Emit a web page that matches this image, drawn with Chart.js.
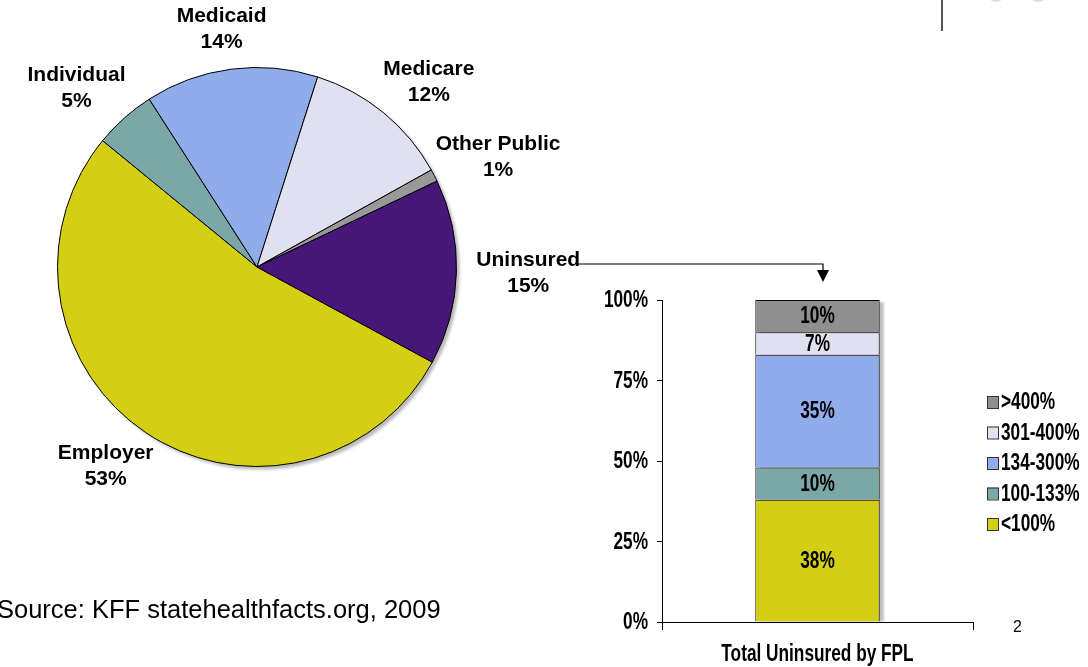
<!DOCTYPE html>
<html>
<head>
<meta charset="utf-8">
<script src="https://cdn.jsdelivr.net/npm/chart.js@4.4.0/dist/chart.umd.min.js"></script>
<style>
  html, body { margin: 0; padding: 0; background: #fff; }
  body { width: 1088px; height: 667px; position: relative; overflow: hidden; }
  #pieWrap { position: absolute; left: 0; top: 0; width: 600px; height: 667px; }
  #barWrap { position: absolute; left: 580px; top: 270px; width: 508px; height: 397px; }
  #source { position: absolute; left: -3px; top: 595px; font: 25.5px "Liberation Sans", Arial, sans-serif; color: #000; white-space: nowrap; }
  #pageNo { position: absolute; left: 1013px; top: 618px; font: 16px "Liberation Sans", Arial, sans-serif; color: #000; }
  #overlay { position: absolute; left: 0; top: 0; pointer-events: none; }
</style>
</head>
<body>
<div id="pieWrap"><canvas id="pieChart"></canvas></div>
<div id="barWrap"><canvas id="barChart"></canvas></div>
<div id="source">Source: KFF statehealthfacts.org, 2009</div>
<div id="pageNo">2</div>
<svg id="overlay" width="1088" height="667">
  <!-- header rule and the cut-off logo dots -->
  <line x1="942" y1="0" x2="942" y2="31" stroke="#555" stroke-width="2"/>
  <circle cx="996" cy="-7" r="9" fill="#dcd8f2"/>
  <circle cx="1038" cy="-7" r="9" fill="#dcd8f2"/>
  <!-- connector from the uninsured slice to the FPL bar -->
  <polyline points="576,264 823,264 823,271" fill="none" stroke="#000" stroke-width="1.2"/>
  <polygon points="817,270 829,270 823,282" fill="#000"/>
</svg>
<script>
// coverage split (pie)
var coverageLabels = ['Employer', 'Individual', 'Medicaid', 'Medicare', 'Other Public', 'Uninsured'];
var coverageValues = [53, 5, 14, 12, 1, 15];
var coverageColors = ['#d4cf14', '#7ba7a6', '#8faceb', '#e0e0f0', '#999999', '#461778'];

// uninsured by poverty level (stacked bar)
var fplCategory = ['Total Uninsured by FPL'];
var fplGroups = ['<100%', '100-133%', '134-300%', '301-400%', '>400%'];
var fplValues = [38, 10, 35, 7, 10];
var fplColors = ['#d4cf14', '#7ba7a6', '#8faceb', '#e0e0f0', '#8f8f8f'];
var yTicks = [0, 25, 50, 75, 100];

var sansFont = '"Liberation Sans", Arial, sans-serif';

// no narrow face installed, so squeeze bold Liberation Sans horizontally
function narrowText(ctx, text, x, y, align) {
    ctx.save();
    ctx.translate(x, y);
    ctx.scale(0.75, 1);
    ctx.font = 'bold 23px ' + sansFont;
    ctx.fillStyle = '#000';
    ctx.textAlign = align;
    ctx.textBaseline = 'middle';
    ctx.fillText(text, 0, 0);
    ctx.restore();
}

// soft grey shadow behind the pie
var pieShadow = {
    id: 'pieShadow',
    beforeDatasetsDraw: function(chart) {
        var arc = chart.getDatasetMeta(0).data[0];
        var ctx = chart.ctx;
        ctx.save();
        ctx.fillStyle = 'rgba(0,0,0,0.28)';
        ctx.filter = 'blur(1.5px)';
        ctx.beginPath();
        ctx.arc(arc.x + 3, arc.y + 3, arc.outerRadius, 0, Math.PI * 2);
        ctx.fill();
        ctx.restore();
    }
};

// two-line labels placed around the pie on an ellipse
var pieLabels = {
    id: 'pieLabels',
    afterDatasetsDraw: function(chart) {
        var ctx = chart.ctx;
        var meta = chart.getDatasetMeta(0);
        ctx.save();
        ctx.fillStyle = '#000';
        ctx.font = 'bold 21px ' + sansFont;
        ctx.textAlign = 'center';
        ctx.textBaseline = 'middle';
        meta.data.forEach(function(arc, i) {
            var mid = (arc.startAngle + arc.endAngle) / 2;
            var x = arc.x + Math.cos(mid) * arc.outerRadius * 1.36;
            var y = arc.y + Math.sin(mid) * arc.outerRadius * 1.2;
            ctx.fillText(coverageLabels[i], x, y - 13);
            ctx.fillText(coverageValues[i] + '%', x, y + 13);
        });
        ctx.restore();
    }
};

new Chart(document.getElementById('pieChart'), {
    type: 'pie',
    data: {
        labels: coverageLabels,
        datasets: [{
            data: coverageValues,
            backgroundColor: coverageColors,
            borderColor: '#000',
            borderWidth: 1
        }]
    },
    options: {
        responsive: true,
        maintainAspectRatio: false,
        animation: false,
        rotation: 118.5,
        layout: { padding: { left: 57, top: 67, right: 143, bottom: 200 } },
        plugins: { legend: { display: false }, tooltip: { enabled: false } }
    },
    plugins: [pieShadow, pieLabels]
});

// shadow to the right of the whole stack
var barShadow = {
    id: 'barShadow',
    beforeDatasetsDraw: function(chart) {
        var first = chart.getDatasetMeta(0).data[0];
        var last = chart.getDatasetMeta(chart.data.datasets.length - 1).data[0];
        var ctx = chart.ctx;
        ctx.save();
        ctx.fillStyle = 'rgba(0,0,0,0.25)';
        ctx.filter = 'blur(1px)';
        ctx.fillRect(first.x - first.width / 2 + 4, last.y + 2, first.width, first.base - last.y - 2);
        ctx.restore();
    }
};

// segment %, axis labels and the legend, all in the condensed style
var barText = {
    id: 'barText',
    afterDraw: function(chart) {
        var ctx = chart.ctx;
        var area = chart.chartArea;
        var xs = chart.scales.x, ys = chart.scales.y;

        chart.data.datasets.forEach(function(ds, i) {
            var el = chart.getDatasetMeta(i).data[0];
            narrowText(ctx, ds.data[0] + '%', el.x, (el.y + el.base) / 2 + 1, 'center');
        });

        ys.ticks.forEach(function(t) {
            narrowText(ctx, t.value + '%', ys.right - 14, ys.getPixelForValue(t.value) + 1, 'right');
        });

        xs.ticks.forEach(function(t, i) {
            narrowText(ctx, xs.getLabelForValue(t.value), xs.getPixelForTick(i), xs.top + 33, 'center');
        });

        // legend, top entry is the last series
        var n = chart.data.datasets.length;
        var step = 30.5;
        var top = (area.top + area.bottom) / 2 - step * (n - 1) / 2 + 2;
        for (var k = 0; k < n; k++) {
            var ds = chart.data.datasets[n - 1 - k];
            var cy = top + k * step;
            var bx = area.right + 14;
            ctx.save();
            ctx.fillStyle = ds.backgroundColor;
            ctx.strokeStyle = '#333';
            ctx.lineWidth = 1;
            ctx.fillRect(bx, cy - 6, 11, 12);
            ctx.strokeRect(bx + 0.5, cy - 5.5, 11, 12);
            ctx.restore();
            narrowText(ctx, ds.label, bx + 14, cy + 1, 'left');
        }
    }
};

new Chart(document.getElementById('barChart'), {
    type: 'bar',
    data: {
        labels: fplCategory,
        datasets: fplGroups.map(function(g, i) {
            return {
                label: g,
                data: [fplValues[i]],
                backgroundColor: fplColors[i],
                borderColor: '#000',
                borderWidth: 1,
                barPercentage: 0.4,
                categoryPercentage: 1
            };
        })
    },
    options: {
        responsive: true,
        maintainAspectRatio: false,
        animation: false,
        layout: { padding: { left: 0, top: 30, right: 115, bottom: 0 } },
        scales: {
            x: {
                stacked: true,
                offset: true,
                border: { color: '#000', width: 1 },
                grid: { offset: true, drawOnChartArea: false, color: '#000', tickLength: 8 },
                ticks: { display: false },
                afterFit: function(s) { s.height = 45; }
            },
            y: {
                stacked: true,
                min: 0,
                max: 100,
                border: { color: '#000', width: 1 },
                grid: { drawOnChartArea: false, color: '#000', tickLength: 5 },
                afterBuildTicks: function(s) { s.ticks = yTicks.map(function(v) { return { value: v }; }); },
                ticks: { display: false },
                afterFit: function(s) { s.width = 82; }
            }
        },
        plugins: {
            tooltip: { enabled: false },
            legend: { display: false }
        }
    },
    plugins: [barShadow, barText]
});
</script>
</body>
</html>
